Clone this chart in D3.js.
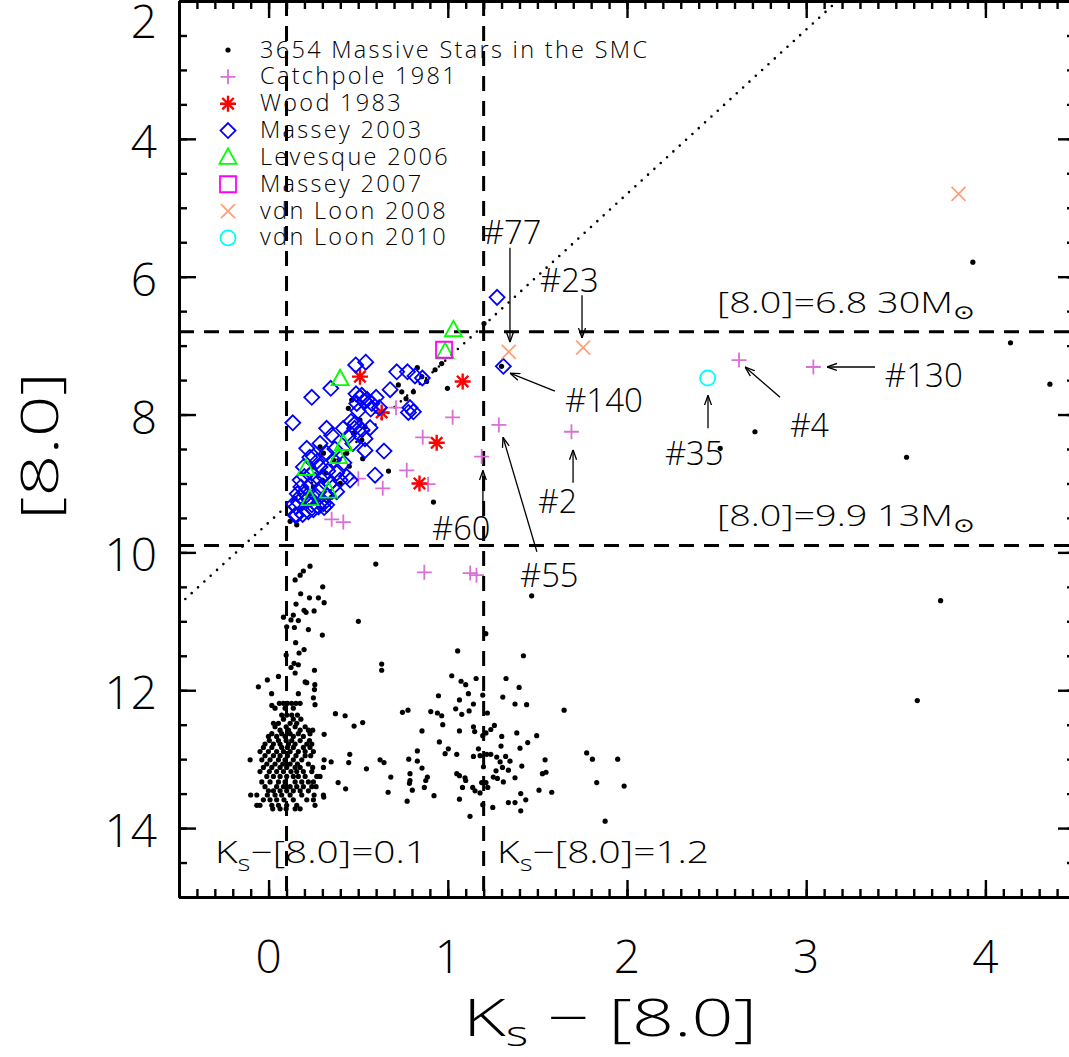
<!DOCTYPE html>
<html>
<head>
<meta charset="utf-8">
<script src="https://cdn.jsdelivr.net/npm/d3@7"></script>
<style>
body { margin: 0; background: #fff; }
text { font-family: "Open Sans", "DejaVu Sans", sans-serif; font-weight: 300; fill: #000; }
</style>
</head>
<body>
<div class="chart"></div>
<script>
// axis ranges and ticks
var xDomain = [-0.5, 4.5];
var yDomain = [2, 15];
var xTickLabels = [0, 1, 2, 3, 4];
var yTickLabels = [2, 4, 6, 8, 10, 12, 14];

// cut lines
var colourCuts = [0.1, 1.2];
var magCuts = [6.8, 9.9];
// dotted line  [8.0] = a + b*(Ks-[8.0])
var dottedLine = [[-0.5, 10.76], [3.174, 2.0]];

// black dots: 3654 massive stars (visible ones)
var massiveStars = [
  [0.231,10.20],[0.194,10.27],[0.176,10.33],[0.148,10.40],[0.302,10.50],[0.179,10.60],[0.228,10.66],[0.278,10.66],
  [0.153,10.75],[0.310,10.73],[0.198,10.84],[0.209,10.87],[0.254,10.85],[0.138,10.91],[0.083,10.94],[0.125,10.98],
  [0.166,10.99],[0.101,11.08],[0.144,11.09],[0.222,11.12],[0.300,11.20],[0.151,11.31],[0.198,11.41],[0.170,11.46],
  [0.098,11.49],[0.142,11.61],[0.166,11.63],[0.125,11.67],[0.256,11.71],[0.148,11.75],[0.055,11.80],[-0.007,11.85],
  [0.204,11.88],[0.213,11.89],[-0.057,11.95],[0.258,11.92],[0.256,11.99],[0.017,12.05],[0.166,12.05],[0.250,12.11],
  [0.259,12.21],[0.018,12.22],
  [0.060,12.19],[0.083,12.19],[0.105,12.19],[0.129,12.19],[0.153,12.19],[0.176,12.19],
  [0.036,12.26],[0.092,12.26],[0.138,12.26],
  [0.073,12.36],[0.101,12.36],[0.129,12.36],[0.161,12.36],
  [0.083,12.42],[0.138,12.42],[0.180,12.42],
  [0.027,12.48],[0.055,12.48],[0.120,12.48],[0.157,12.48],
  [0.036,12.53],[0.098,12.53],[0.148,12.53],[0.204,12.53],
  [0.064,12.58],[0.111,12.58],[0.176,12.58],[0.222,12.58],[0.246,12.58],
  [0.018,12.63],[0.073,12.63],[0.120,12.63],[0.166,12.63],[0.231,12.63],
  [-0.001,12.67],[0.045,12.67],[0.092,12.67],[0.138,12.67],[0.194,12.67],
  [0.004,12.73],[0.055,12.73],[0.098,12.73],[0.129,12.73],[0.176,12.73],[0.228,12.73],
  [-0.020,12.78],[0.027,12.78],[0.064,12.78],[0.111,12.78],[0.148,12.78],[0.213,12.78],[0.241,12.78],
  [-0.029,12.83],[0.018,12.83],[0.073,12.83],[0.105,12.83],[0.138,12.83],[0.194,12.83],[0.231,12.83],
  [-0.048,12.89],[-0.001,12.89],[0.045,12.89],[0.083,12.89],[0.120,12.89],[0.166,12.89],[0.204,12.89],[0.250,12.89],
  [-0.020,12.95],[0.027,12.95],[0.064,12.95],[0.105,12.95],[0.153,12.95],[0.204,12.95],[0.235,12.95],
  [-0.103,13.01],[-0.038,13.01],[0.008,13.01],[0.055,13.01],[0.092,13.01],[0.138,13.01],[0.185,13.01],[0.310,13.01],
  [-0.010,13.07],[0.036,13.07],[0.079,13.07],[0.120,13.07],[0.161,13.07],[0.222,13.07],
  [-0.029,13.12],[0.018,13.12],[0.064,13.12],[0.101,13.12],[0.148,13.12],[0.176,13.12],[0.246,13.12],[0.306,13.12],
  [-0.048,13.18],[0.004,13.18],[0.045,13.18],[0.083,13.18],[0.125,13.18],[0.157,13.18],[0.194,13.18],[0.241,13.18],
  [-0.010,13.25],[0.027,13.25],[0.064,13.25],[0.101,13.25],[0.138,13.25],[0.166,13.25],[0.204,13.25],[0.269,13.25],[0.287,13.25],
  [-0.038,13.33],[0.008,13.33],[0.055,13.33],[0.092,13.33],[0.148,13.33],[0.185,13.33],[0.222,13.33],[0.250,13.33],
  [-0.020,13.40],[0.045,13.40],[0.083,13.40],[0.120,13.40],[0.157,13.40],[0.194,13.40],[0.241,13.40],[0.265,13.40],
  [-0.001,13.46],[0.027,13.46],[0.064,13.46],[0.101,13.46],[0.138,13.46],[0.176,13.46],[0.222,13.46],
  [-0.100,13.52],[-0.066,13.52],[-0.007,13.52],[0.036,13.52],[0.073,13.52],[0.120,13.52],[0.185,13.52],[0.254,13.52],[0.306,13.52],
  [-0.029,13.59],[0.008,13.59],[0.045,13.59],[0.086,13.59],[0.138,13.59],[0.213,13.59],[0.250,13.59],
  [-0.066,13.67],[-0.048,13.67],[0.018,13.67],[0.055,13.67],[0.101,13.67],[0.157,13.67],[0.259,13.67],
  [0.023,13.72],[0.064,13.72],[0.098,13.72],[0.148,13.72],[0.176,13.72],
  [0.501,11.00],[0.631,11.62],[0.631,11.71],[0.598,10.17],[0.373,12.34],[0.427,12.37],[0.477,12.52],[0.525,12.47],
  [0.453,12.93],[0.447,13.05],[0.349,13.04],[0.310,12.64],[0.546,13.14],[0.622,13.01],[0.644,13.05],[0.682,13.26],
  [0.388,13.34],[0.430,13.43],[0.667,13.48],[0.308,13.55],[0.778,12.29],[0.747,12.32],[0.905,12.31],[0.942,12.33],
  [0.966,12.37],[0.948,12.08],[0.972,12.50],[0.856,12.59],[0.830,12.88],[0.782,13.00],[0.830,13.03],[0.856,13.13],
  [0.886,13.26],[0.877,13.31],[0.789,13.21],[0.789,13.31],[0.786,13.35],[0.802,13.45],[0.869,13.41],[0.923,13.53],
  [0.773,13.61],[0.953,12.75],[0.985,12.92],[1.003,12.85],[1.050,12.93],[1.022,11.79],[1.074,11.87],[1.100,11.92],
  [1.055,11.43],[1.158,11.83],[1.115,12.05],[1.065,12.14],[1.044,12.27],[1.078,12.35],[1.119,12.30],[1.143,12.20],
  [1.195,12.07],[1.143,12.53],[1.150,12.60],[1.065,12.59],[1.171,12.85],[1.143,12.96],[1.180,12.95],[1.217,12.93],
  [1.240,12.93],[1.195,12.66],[1.213,12.62],[1.240,12.57],[1.260,12.51],[1.199,13.11],[1.050,13.21],[1.065,13.24],
  [1.096,13.27],[1.100,13.31],[1.189,13.34],[1.213,13.34],[1.082,13.41],[1.139,13.41],[1.152,13.46],[1.180,13.49],
  [1.223,13.41],[1.065,13.58],[1.124,13.83],[1.251,13.70],[1.195,13.66],[1.221,12.33],[1.212,11.18],[1.422,11.50],
  [1.468,10.63],[1.301,12.67],[1.297,12.81],[1.307,12.10],[1.325,11.83],[1.375,12.20],[1.398,11.96],[1.440,12.21],
  [1.385,12.62],[1.403,12.84],[1.446,12.76],[1.496,12.66],[1.273,12.97],[1.292,13.04],[1.323,12.96],[1.347,13.03],
  [1.305,13.12],[1.338,13.16],[1.269,13.17],[1.254,13.26],[1.277,13.28],[1.310,13.33],[1.375,13.27],[1.413,13.10],
  [1.543,13.01],[1.528,13.21],[1.548,13.19],[1.509,13.45],[1.580,13.48],[1.407,13.50],[1.435,13.59],[1.407,13.75],
  [1.338,13.63],[1.375,13.63],[1.649,12.29],[1.775,12.91],[1.807,13.00],[1.948,13.00],[1.831,13.34],[1.984,13.39],
  [1.878,13.90],
  [0.830,7.32],[0.998,7.62],[0.855,7.45],[0.882,7.52],[0.929,7.35],[0.966,7.26],[0.724,7.57],[0.743,7.67],
  [0.767,7.77],[0.808,7.67],[0.510,8.08],[0.538,8.18],[0.473,8.27],[0.520,8.37],[0.525,8.64],[0.464,7.79],
  [0.445,7.91],[0.436,8.56],[0.362,8.66],[0.306,8.56],[0.287,8.47],[0.250,8.76],[0.319,8.85],[0.669,8.82],
  [0.920,9.27],[0.157,9.60],[0.148,9.22],[1.202,6.68],[1.30,7.30],[0.30,8.95],[0.25,9.05],[0.20,9.30],
  [0.35,9.20],[0.45,8.75],[0.12,9.55],[0.22,9.15],[0.40,9.00],
  [2.714,8.25],[3.56,8.62],[2.52,8.49],[3.93,5.79],[4.14,6.96],[4.36,7.56],[3.75,10.70],[3.62,12.15]
];

var catchpole1981 = [
  [1.027,8.04],[0.860,8.33],[0.771,8.81],[0.637,9.07],[0.501,8.93],[0.352,9.52],[0.417,9.56],[1.285,8.15],
  [1.189,8.61],[0.89,9.01],[0.869,10.29],[1.125,10.30],[1.16,10.33],[1.69,8.25],[2.625,7.21],[3.04,7.31],[0.711,7.90]
];

var wood1983 = [[0.510,7.45],[1.083,7.52],[0.631,7.97],[0.938,8.41],[0.842,9.00]];

var massey2003 = [
  [0.135,8.12],[0.241,7.75],[0.347,7.62],[0.486,7.28],[0.542,7.24],[0.715,7.38],[0.775,7.38],[0.817,7.44],
  [0.858,7.47],[0.678,7.64],[0.488,7.70],[0.510,7.75],[0.538,7.81],[0.576,7.84],[0.618,7.90],[0.492,7.84],
  [0.789,7.90],[0.808,7.96],[0.780,7.97],[0.324,8.20],[0.417,8.20],[0.483,8.13],[0.520,8.22],[0.566,8.19],
  [0.445,8.32],[0.538,8.35],[0.352,8.30],[0.213,8.49],[0.287,8.42],[0.538,8.52],[0.644,8.53],[0.594,8.88],
  [0.157,9.46],[0.153,9.34],[0.176,9.19],[0.250,8.61],[0.324,8.56],[0.362,8.66],[0.287,8.76],[0.194,8.76],
  [0.241,8.85],[0.306,8.90],[0.380,8.85],[0.436,8.90],[0.176,8.95],[0.231,9.02],[0.287,9.07],[0.343,9.00],
  [0.399,8.95],[0.455,8.95],[0.204,9.14],[0.269,9.19],[0.324,9.17],[0.380,9.12],[0.166,9.27],[0.241,9.31],
  [0.306,9.29],[0.222,9.41],[0.278,9.34],[0.324,9.31],[0.148,9.46],
  [0.20,8.90],[0.26,8.95],[0.33,8.82],[0.28,9.12],[0.18,9.05],[0.22,9.22],[0.30,9.25],[0.16,9.15],
  [0.25,9.38],[0.19,9.45],[0.36,9.05],[0.27,8.68],[0.42,8.70],[0.23,8.62],[0.31,9.35],[0.14,9.30],
  [0.37,8.50],[0.47,8.42],[0.46,8.10],[0.50,7.95],[0.55,7.78],[0.52,7.72],[0.57,7.92],[0.60,7.75],[0.48,8.20],
  [1.31,7.30],[1.275,6.30]
];

var levesque2006 = [[0.399,7.48],[1.031,6.77],[0.985,7.09],[0.417,8.42],[0.390,8.61],[0.209,8.78],[0.334,9.11],[0.231,9.22]];
var massey2007 = [[0.979,7.06]];
var vanLoon2008 = [[1.34,7.09],[1.755,7.03],[3.85,4.80]];
var vanLoon2010 = [[2.45,7.47]];

// legend rows
var legendNames = ["3654 Massive Stars in the SMC", "Catchpole 1981", "Wood 1983", "Massey 2003",
                   "Levesque 2006", "Massey 2007", "vdn Loon 2008", "vdn Loon 2010"];
var legendSymbols = ["dot", "plus", "asterisk", "diamond", "triangle", "square", "cross", "circle"];
var legendColors = ["#000000", "#da70d6", "#ff0000", "#0000ff", "#00ff00", "#ff00ff", "#ffa07a", "#00ffff"];

// labelled stars: text position and arrow (from -> to), in data units
var annotations = [
  {label: "#77",  tx: 1.196, ty: 5.53, from: [1.347, 5.58], to: [1.347, 6.95]},
  {label: "#23",  tx: 1.515, ty: 6.22, from: [1.749, 6.27], to: [1.749, 6.89]},
  {label: "#140", tx: 1.654, ty: 7.96, from: [1.598, 7.66], to: [1.347, 7.40]},
  {label: "#55",  tx: 1.403, ty: 10.50, from: [1.497, 9.99], to: [1.308, 8.33]},
  {label: "#2",   tx: 1.503, ty: 9.43, from: [1.699, 8.99], to: [1.699, 8.51]},
  {label: "#35",  tx: 2.212, ty: 8.73, from: [2.452, 8.20], to: [2.452, 7.72]},
  {label: "#4",   tx: 2.909, ty: 8.33, from: [2.854, 7.75], to: [2.659, 7.31]},
  {label: "#130", tx: 3.439, ty: 7.60, from: [3.384, 7.31], to: [3.116, 7.31]},
  {label: "#60",  tx: 0.912, ty: 9.82, from: [1.196, 9.28], to: [1.196, 8.81]}
];

var width = 1069, height = 1057;
var x = d3.scaleLinear().domain(xDomain).range([179, 1075]);
var y = d3.scaleLinear().domain(yDomain).range([1, 897]);

var svg = d3.select(".chart").append("svg").attr("width", width).attr("height", height);

svg.append("defs").append("clipPath").attr("id", "plotclip")
    .append("rect").attr("x", 179).attr("y", 1).attr("width", 896).attr("height", 896);
svg.select("defs").append("marker").attr("id", "head")
    .attr("viewBox", "0 0 10 10").attr("refX", 10).attr("refY", 5)
    .attr("markerWidth", 10).attr("markerHeight", 10).attr("markerUnits", "userSpaceOnUse")
    .attr("orient", "auto")
    .append("path").attr("d", "M0,1.5L10,5L0,8.5").attr("fill", "none").attr("stroke", "#000").attr("stroke-width", 1.3);

var plot = svg.append("g").attr("clip-path", "url(#plotclip)");

/**
    Returns the path of a plot symbol centred on cx,cy
 */
function symbolPath(type, cx, cy) {
    switch (type) {
        case "plus": return "M" + (cx-7.5) + "," + cy + "H" + (cx+7.5) + "M" + cx + "," + (cy-7.5) + "V" + (cy+7.5);
        case "asterisk": return "M" + (cx-8) + "," + cy + "H" + (cx+8) + "M" + cx + "," + (cy-8) + "V" + (cy+8) +
            "M" + (cx-5.7) + "," + (cy-5.7) + "L" + (cx+5.7) + "," + (cy+5.7) +
            "M" + (cx+5.7) + "," + (cy-5.7) + "L" + (cx-5.7) + "," + (cy+5.7);
        case "diamond": return "M" + cx + "," + (cy-7.5) + "L" + (cx+7.5) + "," + cy + "L" + cx + "," + (cy+7.5) + "L" + (cx-7.5) + "," + cy + "Z";
        case "triangle": return "M" + cx + "," + (cy-9) + "L" + (cx+8.5) + "," + (cy+6.5) + "L" + (cx-8.5) + "," + (cy+6.5) + "Z";
        case "square": return "M" + (cx-8) + "," + (cy-8) + "h16v16h-16Z";
        case "cross": return "M" + (cx-7) + "," + (cy-7) + "L" + (cx+7) + "," + (cy+7) + "M" + (cx+7) + "," + (cy-7) + "L" + (cx-7) + "," + (cy+7);
    }
    return "";
}

function drawSymbol(container, type, color, cx, cy) {
    if (type == "dot") {
        container.append("circle").attr("cx", cx).attr("cy", cy).attr("r", 2.6).attr("fill", color);
    } else if (type == "circle") {
        container.append("circle").attr("cx", cx).attr("cy", cy).attr("r", 7.5)
            .attr("fill", "none").attr("stroke", color).attr("stroke-width", 1.8);
    } else {
        container.append("path").attr("d", symbolPath(type, cx, cy))
            .attr("fill", "none").attr("stroke", color).attr("stroke-width", type == "asterisk" ? 2.4 : 1.8);
    }
}

function drawSeries(data, type, color) {
    data.forEach(function (d) {
        drawSymbol(plot, type, color, x(d[0]), y(d[1]));
    });
}

// dashed cut lines and dotted line
colourCuts.forEach(function (c) {
    plot.append("line").attr("x1", x(c)).attr("x2", x(c)).attr("y1", y(yDomain[0])).attr("y2", y(yDomain[1]))
        .attr("stroke", "#000").attr("stroke-width", 3).attr("stroke-dasharray", "15,10");
});
magCuts.forEach(function (m) {
    plot.append("line").attr("x1", x(xDomain[0])).attr("x2", x(xDomain[1])).attr("y1", y(m)).attr("y2", y(m))
        .attr("stroke", "#000").attr("stroke-width", 3).attr("stroke-dasharray", "15,10");
});
plot.append("line").attr("x1", x(dottedLine[0][0])).attr("y1", y(dottedLine[0][1]))
    .attr("x2", x(dottedLine[1][0])).attr("y2", y(dottedLine[1][1]))
    .attr("stroke", "#000").attr("stroke-width", 2.6).attr("stroke-linecap", "round").attr("stroke-dasharray", "0,8.6");

// data
drawSeries(massiveStars, "dot", "#000");
drawSeries(catchpole1981, "plus", legendColors[1]);
drawSeries(wood1983, "asterisk", legendColors[2]);
drawSeries(massey2003, "diamond", legendColors[3]);
drawSeries(levesque2006, "triangle", legendColors[4]);
drawSeries(massey2007, "square", legendColors[5]);
drawSeries(vanLoon2008, "cross", legendColors[6]);
drawSeries(vanLoon2010, "circle", legendColors[7]);

// annotations
annotations.forEach(function (a) {
    plot.append("line").attr("x1", x(a.from[0])).attr("y1", y(a.from[1]))
        .attr("x2", x(a.to[0])).attr("y2", y(a.to[1]))
        .attr("stroke", "#000").attr("stroke-width", 1.3).attr("marker-end", "url(#head)");
    plot.append("text").attr("x", x(a.tx)).attr("y", y(a.ty)).attr("font-size", 33)
        .attr("textLength", 19.5 * a.label.length).attr("lengthAdjust", "spacingAndGlyphs").text(a.label);
});

// mass labels
var massLabels = [{v: 6.8, m: "30"}, {v: 9.9, m: "13"}];
massLabels.forEach(function (d) {
    var t = plot.append("text").attr("x", x(2.503)).attr("y", y(d.v) - 19).attr("font-size", 29)
        .attr("textLength", 258).attr("lengthAdjust", "spacingAndGlyphs");
    t.append("tspan").text("[8.0]=" + d.v.toFixed(1) + "  " + d.m + "M");
    t.append("tspan").attr("dy", 6).attr("font-size", 20).text("\u2299");
});

// colour cut labels
colourCuts.forEach(function (c, i) {
    var t = plot.append("text").attr("x", i == 0 ? x(-0.299) : x(1.275)).attr("y", y(14.5)).attr("font-size", 31)
        .attr("textLength", 212).attr("lengthAdjust", "spacingAndGlyphs");
    t.append("tspan").text("K");
    t.append("tspan").attr("dy", 8).attr("font-size", 22).text("s");
    t.append("tspan").attr("dy", -8).text("\u2212[8.0]=" + c.toFixed(1));
});

// legend
legendNames.forEach(function (name, i) {
    var cy = 50 + i * 26.85;
    drawSymbol(svg, legendSymbols[i], legendColors[i], 228, cy);
    svg.append("text").attr("x", 260).attr("y", cy + 7.5).attr("font-size", 23.5)
        .attr("letter-spacing", 2.3).text(name);
});

// axes: major and minor ticks, all four sides, pointing inward
function addAxis(axis, transform, size) {
    var g = svg.append("g").attr("transform", transform).call(axis.tickSize(size).tickSizeOuter(0).tickFormat(""));
    g.select(".domain").attr("stroke-width", 3);
    g.selectAll(".tick line").attr("stroke-width", 2.4);
}
var xMinor = d3.range(-5, 46).map(function (k) { return k / 10; });
var yMinor = d3.range(4, 31).map(function (k) { return k / 2; });
addAxis(d3.axisBottom(x).tickValues(xTickLabels), "translate(0,897)", -17);
addAxis(d3.axisBottom(x).tickValues(xMinor), "translate(0,897)", -8);
addAxis(d3.axisTop(x).tickValues(xTickLabels), "translate(0,1)", -17);
addAxis(d3.axisTop(x).tickValues(xMinor), "translate(0,1)", -8);
addAxis(d3.axisLeft(y).tickValues(yTickLabels), "translate(179,0)", -17);
addAxis(d3.axisLeft(y).tickValues(yMinor), "translate(179,0)", -8);
addAxis(d3.axisRight(y).tickValues(yTickLabels), "translate(1075,0)", -17);
addAxis(d3.axisRight(y).tickValues(yMinor), "translate(1075,0)", -8);

// tick labels
xTickLabels.forEach(function (v) {
    svg.append("text").attr("x", x(v)).attr("y", 973).attr("text-anchor", "middle").attr("font-size", 46).text(v);
});
yTickLabels.forEach(function (v) {
    svg.append("text").attr("x", 157).attr("y", Math.max(y(v) + 19, 38)).attr("text-anchor", "end")
        .attr("font-size", 46).text(v);
});

// axis titles
var xt = svg.append("text").attr("x", 463).attr("y", 1036).attr("font-size", 52)
    .attr("textLength", 294).attr("lengthAdjust", "spacingAndGlyphs");
xt.append("tspan").text("K");
xt.append("tspan").attr("dy", 10).attr("font-size", 34).text("s");
xt.append("tspan").attr("dy", -10).text(" \u2212 [8.0]");

svg.append("text").attr("transform", "translate(58,446) rotate(-90)").attr("text-anchor", "middle")
    .attr("font-size", 52).attr("textLength", 148).attr("lengthAdjust", "spacingAndGlyphs").text("[8.0]");
</script>
</body>
</html>
